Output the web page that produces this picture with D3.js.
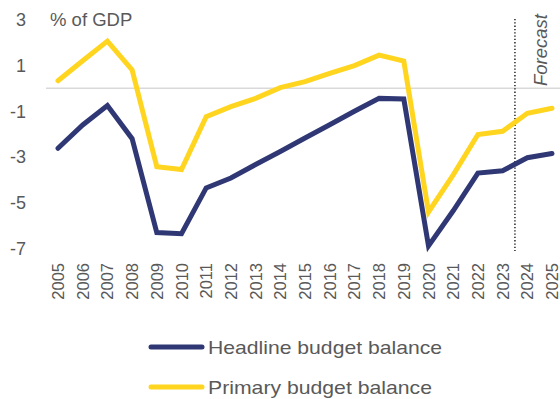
<!DOCTYPE html>
<html>
<head>
<meta charset="utf-8">
<script src="https://cdn.jsdelivr.net/npm/d3@7"></script>
<style>
  html, body { margin: 0; padding: 0; background: #fff; }
  svg text { font-family: "Liberation Sans", Arial, sans-serif; fill: #595959; }
</style>
</head>
<body>
<svg id="chart" width="560" height="399"></svg>
<script>
// Budget balances, % of GDP
const years = ["2005","2006","2007","2008","2009","2010","2011","2012","2013","2014","2015",
               "2016","2017","2018","2019","2020","2021","2022","2023","2024","2025"];
const headline = [-2.62, -1.6, -0.75, -2.2, -6.3, -6.35, -4.35, -3.92, -3.33, -2.76, -2.17,
                  -1.59, -1.0, -0.44, -0.47, -6.88, -5.35, -3.7, -3.6, -3.03, -2.85];
const primary = [0.33, 1.2, 2.06, 0.8, -3.42, -3.55, -1.24, -0.8, -0.44, 0.03, 0.29,
                 0.65, 0.99, 1.45, 1.19, -5.4, -3.78, -2.02, -1.88, -1.09, -0.87];
const yTicks = [3, 1, -1, -3, -5, -7];
const forecastAfter = "2023";
const seriesNames = ["Headline budget balance", "Primary budget balance"];
const seriesColors = ["#2f3874", "#ffd520"];

const svg = d3.select("#chart");

const x = d3.scalePoint().domain(years).range([58, 552]);
const y = d3.scaleLinear().domain([-7, 3]).range([248.6, 19.6]);

// y tick labels
svg.append("g").selectAll("text").data(yTicks).join("text")
  .attr("x", 26).attr("y", d => y(d)).attr("dy", "0.35em")
  .attr("text-anchor", "end").attr("font-size", 18)
  .text(d => d);

svg.append("text").attr("x", 50).attr("y", 26).attr("font-size", 18.5).text("% of GDP");

// zero line
svg.append("line").attr("x1", 46).attr("x2", 560)
  .attr("y1", y(0)).attr("y2", y(0))
  .attr("stroke", "#d9d9d9").attr("stroke-width", 1.5);

// x axis labels, rotated
svg.append("g").selectAll("text").data(years).join("text")
  .attr("transform", d => `translate(${x(d) + 6},263) rotate(-90)`)
  .attr("text-anchor", "end").attr("font-size", 16.5)
  .text(d => d);

// forecast divider
const fx = (x(forecastAfter) + x(years[years.indexOf(forecastAfter) + 1])) / 2;
svg.append("line").attr("x1", fx).attr("x2", fx).attr("y1", 19).attr("y2", 251)
  .attr("stroke", "#000").attr("stroke-width", 1.3).attr("stroke-dasharray", "1.3,2");
svg.append("text").attr("transform", "translate(547,86) rotate(-90)")
  .attr("font-size", 18.5).attr("font-style", "italic").text("Forecast");

// series lines
const line = d3.line().x((d, i) => x(years[i])).y(d => y(d));
[headline, primary].forEach((s, k) => {
  svg.append("path").datum(s)
    .attr("fill", "none").attr("stroke", seriesColors[k])
    .attr("stroke-width", 5).attr("stroke-linejoin", "miter")
    .attr("stroke-linecap", "round")
    .attr("d", line);
});
// headline drawn on top of primary
svg.select("path").raise();

// legend
const legendWidths = [234, 224];
const legend = svg.append("g").selectAll("g").data(seriesNames).join("g")
  .attr("transform", (d, i) => `translate(0,${347 + i * 40})`);
legend.append("line").attr("x1", 151).attr("x2", 202).attr("y1", 0).attr("y2", 0)
  .attr("stroke", (d, i) => seriesColors[i]).attr("stroke-width", 5).attr("stroke-linecap", "round");
legend.append("text").attr("x", 208).attr("y", 0).attr("dy", "0.35em")
  .attr("font-size", 19)
  .attr("textLength", (d, i) => legendWidths[i]).attr("lengthAdjust", "spacingAndGlyphs")
  .text(d => d);
</script>
</body>
</html>
